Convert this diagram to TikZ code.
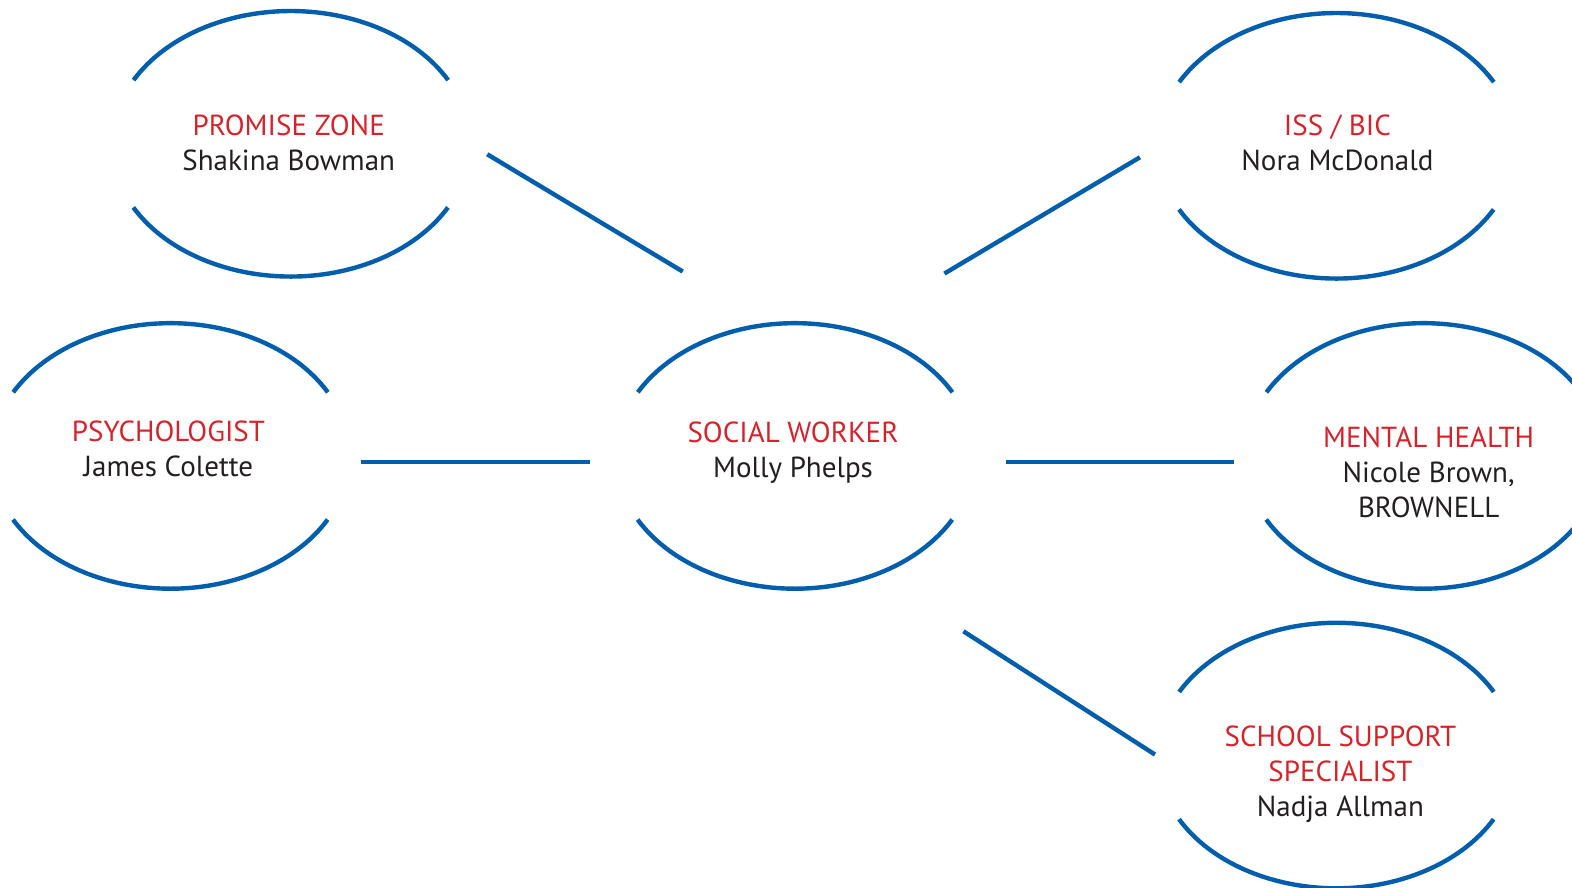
\documentclass[tikz,border=0pt]{standalone}
\usepackage{fontspec}
\setmainfont{PT Sans}
\usepackage{tikz}

\definecolor{ovalblue}{RGB}{0,94,172}
\definecolor{rolered}{RGB}{214,35,43}
\definecolor{namegray}{RGB}{35,31,32}

\newcommand{\role}[1]{{\color{rolered}#1}}

\begin{document}
\begin{tikzpicture}[x=0.50135pt,y=-0.5011pt,line width=2.2pt,draw=ovalblue,
                    font=\fontsize{14.5}{17.5}\selectfont]
  \tikzstyle{every node}=[align=center,text=namegray,inner sep=0pt]
  \useasboundingbox (0,0) rectangle (1568,886);

  \node (pz)  at (288,142.5)  {\role{PROMISE ZONE}\\Shakina Bowman};
  \node (iss) at (1334,142.5) {\role{ISS / BIC}\\Nora McDonald};
  \node (psy) at (168,448)    {\role{PSYCHOLOGIST}\\James Colette};
  \node (sw)  at (791,451.5)  {\role{SOCIAL WORKER}\\Molly Phelps};
  \node (mh)  at (1425,471)   {\role{MENTAL HEALTH}\\Nicole Brown,\\BROWNELL};
  \node (sss) at (1337,773)   {\role{SCHOOL SUPPORT}\\\role{SPECIALIST}\\Nadja Allman};

  % open ovals round each role
  \foreach \n/\dx/\dy in {pz/2/1, iss/-1/3, psy/2/7, sw/2/3.5, mh/-5/-16, sss/-4/-19}
  {
    \draw[ovalblue] ([shift={(\dx+157,\dy-63.5)}]\n.center)
      arc[start angle=28.6, end angle=151.4, x radius=89.6pt, y radius=66.3pt];
    \draw[ovalblue] ([shift={(\dx-157,\dy+63.5)}]\n.center)
      arc[start angle=208.6, end angle=331.4, x radius=89.6pt, y radius=66.3pt];
  }

  \coordinate (pz-end)  at (486,154);
  \coordinate (sw-pz)   at (681,271);
  \coordinate (sw-iss)  at (942,273);
  \coordinate (iss-end) at (1137,157);
  \coordinate (psy-end) at (360,461);
  \coordinate (sw-psy)  at (588,461);
  \coordinate (sw-mh)   at (1003,461);
  \coordinate (mh-end)  at (1231,461);
  \coordinate (sw-sss)  at (961,630);
  \coordinate (sss-end) at (1152,753);

  \path[draw=ovalblue] (pz-end) edge (sw-pz)
        (sw-iss) edge (iss-end)
        (psy-end) edge (sw-psy)
        (sw-mh) edge (mh-end)
        (sw-sss) edge (sss-end);
\end{tikzpicture}
\end{document}
